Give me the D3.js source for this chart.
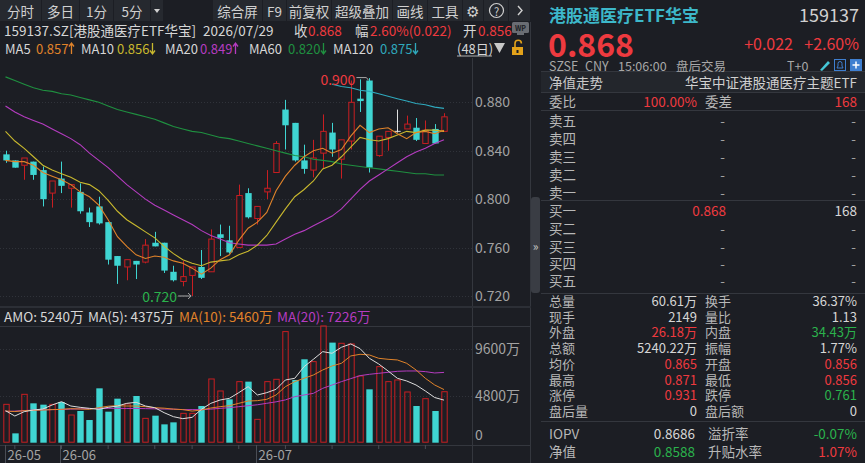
<!DOCTYPE html>
<html><head><meta charset="utf-8">
<script src="https://cdn.jsdelivr.net/npm/d3@7"></script>
<style>
body{margin:0;background:#1c1e24;overflow:hidden;}
svg text{font-family:"Noto Sans CJK SC","Noto Sans",sans-serif;}
</style></head>
<body><svg id="c" width="865" height="463"></svg>
<script>
// ---------------- DATA ----------------
const opens  = [0.837,0.832,0.828,0.831,0.824,0.805,0.817,0.809,0.806,0.789,0.794,0.781,0.753,0.744,0.749,0.748,0.764,0.764,0.740,0.732,0.737,0.744,0.740,0.771,0.766,0.760,0.805,0.784,0.806,0.822,0.874,0.863,0.832,0.824,0.838,0.855,0.833,0.848,0.883,0.898,0.836,0.851,0.856,0.858,0.859,0.846,0.858,0.856];
const highs  = [0.840,0.832,0.834,0.831,0.827,0.815,0.831,0.812,0.813,0.793,0.802,0.781,0.753,0.750,0.749,0.767,0.773,0.764,0.745,0.749,0.744,0.758,0.775,0.779,0.778,0.812,0.809,0.794,0.824,0.848,0.882,0.863,0.845,0.849,0.870,0.863,0.849,0.898,0.899,0.900,0.852,0.856,0.874,0.869,0.867,0.865,0.862,0.871];
const lows   = [0.830,0.826,0.816,0.816,0.794,0.793,0.805,0.793,0.788,0.777,0.779,0.746,0.730,0.733,0.734,0.747,0.761,0.739,0.732,0.728,0.720,0.734,0.740,0.753,0.755,0.760,0.784,0.779,0.800,0.822,0.841,0.831,0.821,0.818,0.825,0.835,0.817,0.841,0.872,0.822,0.835,0.840,0.855,0.858,0.848,0.846,0.846,0.856];
const closes = [0.832,0.826,0.834,0.820,0.800,0.815,0.811,0.812,0.790,0.781,0.780,0.750,0.745,0.750,0.746,0.762,0.761,0.741,0.733,0.736,0.744,0.735,0.767,0.768,0.756,0.803,0.785,0.794,0.809,0.846,0.861,0.832,0.825,0.834,0.856,0.841,0.849,0.880,0.881,0.826,0.852,0.856,0.856,0.862,0.849,0.857,0.846,0.868];
const ma5    = [0.832,0.831,0.831,0.828,0.822,0.819,0.816,0.812,0.806,0.802,0.795,0.783,0.769,0.761,0.754,0.751,0.753,0.752,0.749,0.747,0.743,0.738,0.743,0.750,0.754,0.766,0.776,0.781,0.789,0.807,0.819,0.828,0.835,0.840,0.842,0.838,0.841,0.852,0.861,0.855,0.858,0.859,0.854,0.850,0.855,0.856,0.854,0.857];
const ma10   = [0.856,0.848,0.842,0.835,0.828,0.824,0.821,0.818,0.814,0.812,0.807,0.799,0.790,0.783,0.778,0.773,0.768,0.761,0.755,0.750,0.747,0.745,0.748,0.749,0.750,0.754,0.757,0.762,0.770,0.781,0.792,0.802,0.808,0.815,0.825,0.828,0.835,0.843,0.851,0.849,0.848,0.850,0.853,0.856,0.855,0.857,0.857,0.856];
const ma20   = [0.877,0.872,0.868,0.865,0.862,0.858,0.854,0.850,0.845,0.838,0.832,0.826,0.819,0.812,0.806,0.800,0.795,0.791,0.787,0.783,0.779,0.774,0.770,0.767,0.764,0.763,0.762,0.762,0.762,0.763,0.767,0.771,0.774,0.778,0.782,0.786,0.792,0.800,0.808,0.815,0.820,0.825,0.830,0.835,0.839,0.842,0.846,0.849];
const ma60   = [0.901,0.898,0.895,0.892,0.890,0.889,0.887,0.886,0.884,0.882,0.880,0.877,0.874,0.872,0.870,0.868,0.866,0.863,0.860,0.858,0.856,0.855,0.853,0.851,0.850,0.848,0.846,0.844,0.842,0.840,0.838,0.836,0.835,0.833,0.832,0.831,0.829,0.828,0.827,0.826,0.825,0.824,0.823,0.822,0.821,0.821,0.820,0.820];
const ma120  = [null,null,null,null,null,null,null,null,null,null,null,null,null,null,null,null,null,null,null,null,null,null,null,null,null,null,null,null,null,null,null,null,null,null,null,0.895,0.893,0.892,0.890,0.889,0.887,0.885,0.883,0.881,0.879,0.878,0.876,0.875];
const amount = [3943,960,4972,4046,3909,3943,4183,2846,3258,2332,5589,3189,4526,3978,4801,2503,2778,1886,2092,3018,3018,3772,6549,5315,4458,6275,6275,2400,6275,6515,11418,6450,8573,8332,12001,10287,10218,10150,6858,5486,7818,6275,6447,5212,3772,4526,3258,5240];
const amountUp = [1,0,1,0,0,1,0,1,0,0,0,0,0,1,0,1,0,0,0,1,1,0,1,1,0,1,0,1,1,1,1,0,0,1,1,0,1,1,1,0,1,1,1,1,0,1,0,1];
const amoMa5  = [3292,2743,3189,3360,3463,3875,4218,3772,3635,3532,3429,3635,3772,4046,4150,3772,3600,3086,2675,2469,2606,3429,4046,4389,4561,5144,5761,4903,5144,5486,6447,6618,7818,8573,9361,9190,9807,10150,9670,8675,8092,7372,6618,6344,5932,5315,4643,4375];
const amoMa10 = [3258,3200,3290,3330,3360,3400,3430,3500,3460,3430,3600,3750,3800,3770,3770,3700,3600,3550,3450,3400,3250,3360,3566,3703,3806,4046,4286,4320,4458,4903,5761,6275,6618,6961,7475,7887,8161,8915,9087,9018,8675,8573,8504,8161,7475,6618,5932,5460];
const amoMa20 = [3200,3250,3300,3350,3380,3400,3420,3450,3480,3500,3532,3530,3530,3520,3520,3500,3480,3460,3450,3400,3400,3400,3450,3530,3600,3700,3800,3900,4050,4200,4400,4732,4903,5075,5590,5932,6275,6584,6892,7030,7132,7235,7338,7372,7372,7304,7167,7226];
const priceTicks = [0.720,0.760,0.800,0.840,0.880];
const amountTicks = [0,4800,9600];
const monthStarts = [0,6,27];
const monthLabels = ["26-05","26-06","26-07"];
const weekStarts = [1,6,11,16,20,25,30,35,40,45];
const maNames = ["MA5","MA10","MA20","MA60","MA120"];
const maLast = ["0.857","0.856","0.849","0.820","0.875"];
const maRising = [1,0,1,0,0];

// ---------------- DRAW ----------------
const svg = d3.select("#c");
const BG="#1c1e24", RED="#ee3a3f", GREEN="#2bb24c", CYAN="#3fd5d2", CRED="#c81e22", TXT="#d6d6d6", GRAY="#a3a3a3", LINE="#34373e";
const MA5C="#e0832a", MA10C="#c9b92e", MA20C="#b53cc0", MA60C="#1f9040", MA120C="#2fa9bd";
svg.append("rect").attr("width",865).attr("height",463).attr("fill",BG);

function T(x,y,t,o={}){
  const e=svg.append("text").attr("x",x).attr("y",y).attr("dominant-baseline","central")
    .attr("fill",o.c||TXT).attr("font-size",o.s||13).attr("text-anchor",o.a||"start").text(t);
  if(o.w) e.attr("font-weight",o.w);
  if(o.f) e.attr("font-family",o.f);
  return e;
}
function arrow(x,yc,up,col){
  const t=yc-5.5,b=yc+5.5;
  const d = up ? `M${x},${b} L${x},${t+1} M${x-2.5},${t+3.5} L${x},${t} L${x+2.5},${t+3.5}`
               : `M${x},${t} L${x},${b-1} M${x-2.5},${b-3.5} L${x},${b} L${x+2.5},${b-3.5}`;
  svg.append("path").attr("d",d).attr("fill","none").attr("stroke",col).attr("stroke-width",1.3);
}

// toolbar
const cells=[[0,41,"分时"],[42,79,"多日"],[80,113,"1分"],[114,150,"5分"],[151,163,""],
  [213,262,"综合屏"],[263,286,"F9"],[287,331,"前复权"],[332,392,"超级叠加"],[393,427,"画线"],[428,462,"工具"],[463,483,""],[484,508,""],[509,530,""]];
cells.forEach(c=>{
  svg.append("rect").attr("x",c[0]).attr("y",0).attr("width",c[1]-c[0]).attr("height",21).attr("fill","#26292f");
  if(c[2]) T((c[0]+c[1])/2,10.5,c[2],{a:"middle",s:13.5,c:"#d0d0d0"});
});
svg.append("path").attr("d","M154,9 L160,9 L157,13 Z").attr("fill","#d0d0d0");
T(472.5,10.5,"⚙",{a:"middle",s:15,c:"#d0d0d0",f:"DejaVu Sans"});
svg.append("circle").attr("cx",496.5).attr("cy",10.5).attr("r",7).attr("fill","none").attr("stroke","#d0d0d0").attr("stroke-width",1.2);
T(496.5,10.5,"?",{a:"middle",s:11,c:"#d0d0d0"});
svg.append("path").attr("d","M518,6 L522,10.5 L518,15").attr("fill","none").attr("stroke","#d0d0d0").attr("stroke-width",1.4);

// row 2
T(4,30,"159137.SZ[港股通医疗ETF华宝]",{s:13.5});
T(203,30,"2026/07/29",{s:13.5});
T(294,30,"收",{s:13.5}); T(308,30,"0.868",{s:13.5,c:RED});
T(355,30,"幅",{s:13.5}); T(370,30,"2.60%(0.022)",{s:13.5,c:RED});
T(463,30,"开",{s:13.5}); T(478,30,"0.856",{s:13.5,c:RED});
svg.append("rect").attr("x",512).attr("y",22).attr("width",17).attr("height",11).attr("rx",1.5).attr("fill","#6a6d73");
T(520.5,27.5,"WP",{a:"middle",s:7,c:"#1c1e24",w:"bold"});
svg.append("rect").attr("x",517).attr("y",33).attr("width",7).attr("height",2).attr("fill","#6a6d73");

// row 3 MA legend
const maCols=[MA5C,MA10C,MA20C,MA60C,MA120C];
const maLabX=[5,81,165,249,333], maValX=[36,117,200,288,380];
maNames.forEach((nm,k)=>{
  T(maLabX[k],48.5,nm,{s:13});
  const v=T(maValX[k],48.5,maLast[k],{s:13,c:maCols[k]});
  const w=v.node().getComputedTextLength();
  arrow(maValX[k]+w+3,48.5,maRising[k],maCols[k]);
});
T(457,48.5,"(48日)",{s:13});
svg.append("line").attr("x1",457).attr("x2",492).attr("y1",56).attr("y2",56).attr("stroke",TXT).attr("stroke-width",0.8);
svg.append("path").attr("d","M494,43 L505,43 L499.5,53 Z").attr("fill","#c8c8c8");
svg.append("rect").attr("x",512).attr("y",47).attr("width",11).attr("height",8).attr("fill","#e3a21a");
svg.append("path").attr("d","M515,47 L515,43.5 A3.2,3.2 0 0 1 521.4,43.5").attr("fill","none").attr("stroke","#e3a21a").attr("stroke-width",1.6);
svg.append("rect").attr("x",516.5).attr("y",50).attr("width",2).attr("height",3).attr("fill","#1c1e24");

// scales
const n = closes.length;
const x = d3.scaleBand().domain(d3.range(n)).range([0.84, 448.7]);
const cx = i => x(i) + x.bandwidth()/2;
const bw = 6.4;
const y = d3.scaleLinear().domain([0.72,0.88]).range([296,102.3]);
const yv = d3.scaleLinear().domain([0,9600]).range([442.7,349.3]);

// frame lines
svg.append("line").attr("x1",472.5).attr("x2",472.5).attr("y1",58).attr("y2",463).attr("stroke",LINE);
svg.append("line").attr("x1",530.5).attr("x2",530.5).attr("y1",22).attr("y2",463).attr("stroke",LINE);
svg.append("rect").attr("x",0).attr("y",306).attr("width",531).attr("height",2).attr("fill","#2c2f36");
svg.append("line").attr("x1",0).attr("x2",531).attr("y1",326.5).attr("y2",326.5).attr("stroke",LINE);
svg.append("line").attr("x1",0).attr("x2",531).attr("y1",445.5).attr("y2",445.5).attr("stroke",LINE);

// price grid + axis
svg.append("g").selectAll("line").data(priceTicks).join("line")
  .attr("x1",0).attr("x2",472).attr("y1",d=>Math.round(y(d))+0.5).attr("y2",d=>Math.round(y(d))+0.5)
  .attr("stroke","#30333a").attr("stroke-dasharray","1,2");
const pa = svg.append("g").attr("transform","translate(472,0)")
  .call(d3.axisRight(y).tickValues(priceTicks).tickFormat(d3.format(".3f")).tickSize(0).tickPadding(3));
pa.select(".domain").remove();
pa.selectAll("text").attr("fill",GRAY).attr("font-size",14).attr("font-family",'"Noto Sans CJK SC",sans-serif');

// candles
const cg = svg.append("g");
d3.range(n).forEach(i=>{
  const o=opens[i], c=closes[i], h=highs[i], l=lows[i], X=Math.round(cx(i))+0.5;
  if (c===o){
    cg.append("line").attr("x1",X).attr("x2",X).attr("y1",y(h)).attr("y2",y(l)).attr("stroke","#e0e0e0");
    cg.append("line").attr("x1",X-bw/2).attr("x2",X+bw/2).attr("y1",y(c)).attr("y2",y(c)).attr("stroke","#e0e0e0");
  } else if (c>o){
    cg.append("line").attr("x1",X).attr("x2",X).attr("y1",y(h)).attr("y2",y(l)).attr("stroke",CRED);
    cg.append("rect").attr("x",X-bw/2+0.5).attr("y",y(c)).attr("width",bw-1).attr("height",Math.max(1,y(o)-y(c)))
      .attr("fill",BG).attr("stroke",CRED).attr("stroke-width",1);
  } else {
    cg.append("line").attr("x1",X).attr("x2",X).attr("y1",y(h)).attr("y2",y(l)).attr("stroke",CYAN);
    cg.append("rect").attr("x",X-bw/2).attr("y",y(o)).attr("width",bw).attr("height",Math.max(1.5,y(c)-y(o))).attr("fill",CYAN);
  }
});

// MA lines
const line = d3.line().defined(d=>d!=null).x((d,i)=>cx(i)).y(d=>y(d));
[[ma60,MA60C],[ma120,MA120C],[ma20,MA20C],[ma10,MA10C],[ma5,MA5C]].forEach(m=>{
  svg.append("path").datum(m[0]).attr("d",line).attr("fill","none").attr("stroke",m[1]).attr("stroke-width",1.1);
});

// extremes annotations
const iMax = d3.maxIndex(highs), iMin = d3.minIndex(lows);
T(cx(iMax)-14,y(highs[iMax])+1,d3.format(".3f")(highs[iMax]),{a:"end",s:14,c:RED});
svg.append("path").attr("d",`M${cx(iMax)-13},${y(highs[iMax])-0.5} L${cx(iMax)-3},${y(highs[iMax])-0.5} L${cx(iMax)-1},${y(highs[iMax])+2}`)
  .attr("fill","none").attr("stroke","#a8a8a8");
T(cx(iMin)-15,y(lows[iMin]),d3.format(".3f")(lows[iMin]),{a:"end",s:14,c:GREEN});
svg.append("path").attr("d",`M${cx(iMin)-14},${y(lows[iMin])} L${cx(iMin)-1},${y(lows[iMin])} M${cx(iMin)-4},${y(lows[iMin])-3} L${cx(iMin)-1},${y(lows[iMin])} L${cx(iMin)-4},${y(lows[iMin])+3}`)
  .attr("fill","none").attr("stroke","#a8a8a8");

// volume legend
T(4,316,"AMO: 5240万",{s:13.5});
T(88,316,"MA(5): 4375万",{s:13.5});
T(179,316,"MA(10): 5460万",{s:13.5,c:MA5C});
T(277,316,"MA(20): 7226万",{s:13.5,c:MA20C});

// volume grid + axis
svg.append("g").selectAll("line").data(amountTicks.slice(1)).join("line")
  .attr("x1",0).attr("x2",472).attr("y1",d=>Math.round(yv(d))+0.5).attr("y2",d=>Math.round(yv(d))+0.5)
  .attr("stroke","#30333a").attr("stroke-dasharray","1,2");
const va = svg.append("g").attr("transform","translate(472,0)")
  .call(d3.axisRight(yv).tickValues(amountTicks).tickFormat(d=>d===0?"0":d+"万").tickSize(0).tickPadding(3));
va.select(".domain").remove();
va.selectAll("text").attr("fill",GRAY).attr("font-size",14).attr("font-family",'"Noto Sans CJK SC",sans-serif')
  .attr("dy",d=>d===0?"-0.2em":"0.32em");

// volume bars
const vg = svg.append("g");
d3.range(n).forEach(i=>{
  const X=Math.round(cx(i))+0.5, v=amount[i];
  if (amountUp[i]) vg.append("rect").attr("x",X-bw/2+0.5).attr("y",yv(v)).attr("width",bw-1).attr("height",yv(0)-yv(v)-0.5)
      .attr("fill","none").attr("stroke",CRED);
  else vg.append("rect").attr("x",X-bw/2).attr("y",yv(v)).attr("width",bw).attr("height",yv(0)-yv(v)).attr("fill",CYAN);
});
const vline = d3.line().x((d,i)=>cx(i)).y(d=>yv(d));
[[amoMa20,MA20C],[amoMa10,MA5C],[amoMa5,"#dcdcdc"]].forEach(m=>{
  svg.append("path").datum(m[0]).attr("d",vline).attr("fill","none").attr("stroke",m[1]).attr("stroke-width",1);
});

// x axis
const xa = svg.append("g").attr("transform","translate(0,445)")
  .call(d3.axisBottom(x).tickValues(weekStarts).tickFormat("").tickSize(4));
xa.select(".domain").remove();
xa.selectAll("line").attr("stroke","#4a4d55");
monthStarts.forEach((m,k)=>{
  const X=Math.round(cx(m))-0.5;
  svg.append("line").attr("x1",X).attr("x2",X).attr("y1",445).attr("y2",463).attr("stroke","#4a4d55");
  T(X+2,454,monthLabels[k],{s:13,c:GRAY});
});

// side handle
svg.append("rect").attr("x",531).attr("y",197).attr("width",9).attr("height",96).attr("rx",3).attr("fill","#3a3d44");
T(535.5,245,"»",{a:"middle",s:12,c:"#c8c8c8"});

// ---------------- RIGHT PANEL ----------------
const L=549, R=857;
const hl = yy => svg.append("line").attr("x1",541).attr("x2",865).attr("y1",yy).attr("y2",yy).attr("stroke",LINE);
svg.append("rect").attr("x",541).attr("y",72).attr("width",324).attr("height",20).attr("fill","#23262c");
hl(71.5); hl(92.5); hl(110.5); hl(200.5); hl(293.5); hl(421.5);

T(L,14,"港股通医疗ETF华宝",{s:17,c:"#3db8ca",w:"bold"});
T(R+2,14,"159137",{a:"end",s:18,c:"#d0d0d0"});
T(L-1,42.5,"0.868",{s:32,c:RED,w:"bold"});
T(793,43,"+0.022",{a:"end",s:16,c:RED});
T(R+2,43,"+2.60%",{a:"end",s:16,c:RED});
svg.append("path").attr("d","M820,70 L828,61 L830,63 L822,71 Z").attr("fill","#45c8d8");
svg.append("rect").attr("x",834.5).attr("y",59.5).attr("width",11).attr("height",11).attr("fill","none").attr("stroke","#3f7fd0");
svg.append("path").attr("d","M837,68 L843,68 L842,66 L842,63.5 A2,2 0 0 0 838,63.5 L838,66 Z").attr("fill","none").attr("stroke","#3f7fd0");
svg.append("rect").attr("x",850).attr("y",59).attr("width",12).attr("height",12).attr("fill","#3f7fd0");
svg.append("path").attr("d","M856,61.5 L856,68.5 M852.5,65 L859.5,65").attr("stroke","#fff").attr("stroke-width",1.5);

T(L,82,"净值走势",{s:13.5,c:"#c8c8c8"});
T(R,82,"华宝中证港股通医疗主题ETF",{a:"end",s:13.5,c:"#d0d0d0"});
T(L,101,"委比",{s:13.5,c:"#b8b8b8"}); T(697,101,"100.00%",{a:"end",s:13.5,c:RED});
T(705,101,"委差",{s:13.5,c:"#b8b8b8"}); T(R,101,"168",{a:"end",s:13.5,c:RED});

const book=[["卖五",119.5,"-","-",GRAY],["卖四",137.5,"-","-",GRAY],["卖三",155.5,"-","-",GRAY],["卖二",173.5,"-","-",GRAY],["卖一",191.5,"-","-",GRAY],
  ["买一",209.5,"0.868","168",RED],["买二",228,"-","-",GRAY],["买三",245.5,"-","-",GRAY],["买四",263,"-","-",GRAY],["买五",280,"-","-",GRAY]];
book.forEach(b=>{
  T(L,b[1],b[0],{s:13.5,c:"#b8b8b8"});
  T(b[2]==="-"?725:726,b[1],b[2],{a:"end",s:13.5,c:b[4]});
  T(b[3]==="-"?856:R,b[1],b[3],{a:"end",s:13.5,c:b[3]==="-"?GRAY:TXT});
});

const stats=[["总量","60.61万",TXT,"换手","36.37%",TXT],["现手","2149",TXT,"量比","1.13",TXT],["外盘","26.18万",RED,"内盘","34.43万",GREEN],
  ["总额","5240.22万",TXT,"振幅","1.77%",TXT],["均价","0.865",RED,"开盘","0.856",RED],["最高","0.871",RED,"最低","0.856",RED],
  ["涨停","0.931",RED,"跌停","0.761",GREEN],["盘后量","0",TXT,"盘后额","0",TXT]];
stats.forEach((s,k)=>{
  const yy=300.5+k*15.7;
  T(L,yy,s[0],{s:13,c:"#b8b8b8"}); T(697,yy,s[1],{a:"end",s:13,c:s[2]});
  T(705,yy,s[3],{s:13,c:"#b8b8b8"}); T(R,yy,s[4],{a:"end",s:13,c:s[5]});
});
T(L,433,"IOPV",{s:13.5,c:"#b8b8b8"}); T(695,433,"0.8686",{a:"end",s:13.5,c:TXT});
T(708,433,"溢折率",{s:13.5,c:"#b8b8b8"}); T(R,433,"-0.07%",{a:"end",s:13.5,c:GREEN});
T(L,451,"净值",{s:13.5,c:"#b8b8b8"}); T(695,451,"0.8588",{a:"end",s:13.5,c:GREEN});
T(708,451,"升贴水率",{s:13.5,c:"#b8b8b8"}); T(R,451,"1.07%",{a:"end",s:13.5,c:RED});

// market info row (drawn last)
T(L,65,"SZSE",{s:12.5,c:"#a8a8a8"}); T(585,65,"CNY",{s:12.5,c:"#a8a8a8"}); T(618,65,"15:06:00",{s:12.5,c:"#a8a8a8"}); T(676,65,"盘后交易",{s:12.5,c:"#a8a8a8"});
T(787,65,"T+0",{s:12.5,c:"#a8a8a8"});
</script></body></html>
